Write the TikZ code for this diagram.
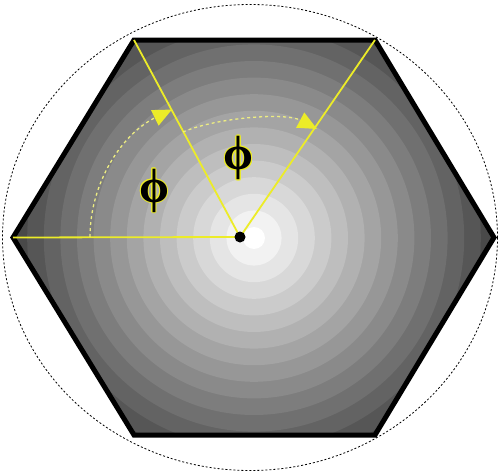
\documentclass[tikz,border=0pt]{standalone}
\usepackage{fontspec}
\newfontfamily\phifont{Liberation Serif}
\definecolor{spokeYellow}{RGB}{236, 236, 40}
\definecolor{sweepYellow}{RGB}{236, 236, 130}
\usetikzlibrary{arrows.meta}

\begin{document}
\begin{tikzpicture}[
    x=1pt, y=-1pt,
    hexline/.style={line width=5pt, line join=miter, black},
    spoke/.style={line width=1.8pt, spokeYellow},
    sweep/.style={line width=1.3pt, sweepYellow, dash pattern=on 3pt off 3pt,
                  -{Triangle[length=19pt, width=17pt, color=spokeYellow, sep=0pt]}},
    philabel/.style={font=\phifont\bfseries\fontsize{48}{48}\selectfont, inner sep=0pt},
  ]
    \useasboundingbox (0,0) rectangle (499,474);

    % Hexagon corners and centre
    \coordinate (L)  at (13,237.5);
    \coordinate (TL) at (134,40);
    \coordinate (TR) at (375,40);
    \coordinate (R)  at (494,237.5);
    \coordinate (BR) at (375,435);
    \coordinate (BL) at (134,435);
    \coordinate (O)  at (240,237);
    \coordinate (G)  at (254,238);

    % Stepped grey rings inside the hexagon
    \begin{scope}
      \clip (L) -- (TL) -- (TR) -- (R) -- (BR) -- (BL) -- cycle;
      \foreach \k in {15,14,...,0} {
        \pgfmathsetmacro{\rr}{11+16.6*\k}
        \pgfmathsetmacro{\sh}{5.1*\k}
        \fill[black!\sh!white] (G) circle[radius=\rr pt];
      }
    \end{scope}
    \draw[hexline] (L) -- (TL) -- (TR) -- (R) -- (BR) -- (BL) -- cycle;

    % Dotted circumcircle
    \draw[black, line width=0.8pt, dash pattern=on 2pt off 2pt]
         (250,237.5) ellipse[x radius=247.5pt, y radius=233pt];

    % Spokes
    \draw[spoke] (O) -- (L);
    \draw[spoke] (O) -- (TL);
    \draw[spoke] (O) -- (TR);
    \fill[black] (O) circle[radius=5.5pt];

    % Angle sweeps
    \draw[sweep] (90,237) arc[start angle=180, end angle=117,
                              x radius=150pt, y radius=143pt];
    \draw[sweep] (183,132) .. controls (215,118) and (285,112) .. (317,129);

    % Angle labels
    \coordinate (P1) at (154,190.5);
    \coordinate (P2) at (238.5,158);
    \foreach \p in {P1,P2} {
      \foreach \a in {0,30,...,330}
        \path (\p) ++(\a:1pt) node[philabel, text=spokeYellow] {ϕ};
      \node[philabel, text=black] at (\p) {ϕ};
    }
  \end{tikzpicture}
\end{document}
